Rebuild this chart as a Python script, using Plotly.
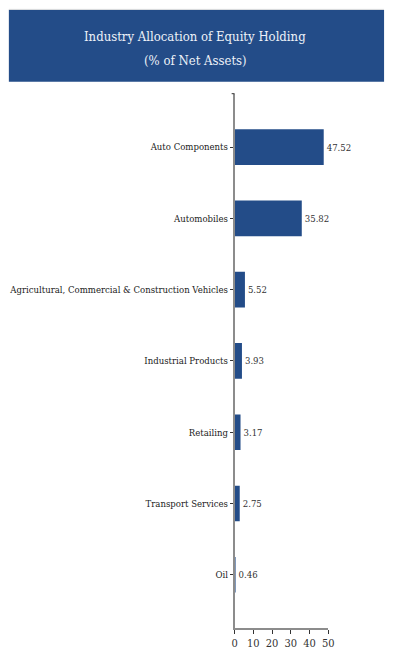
import plotly.graph_objects as go

# Industry allocation of equity holdings, % of net assets
industries = [
    "Auto Components",
    "Automobiles",
    "Agricultural, Commercial & Construction Vehicles",
    "Industrial Products",
    "Retailing",
    "Transport Services",
    "Oil",
]
allocation = [47.52, 35.82, 5.52, 3.93, 3.17, 2.75, 0.46]
x_ticks = [0, 10, 20, 30, 40, 50]

W, H = 393, 650
FONT = "DejaVu Serif Condensed"
NAVY = "#234c88"
AXIS_GREY = "#8c8c8c"

# plot area in pixels (left, right, top, bottom)
PL, PR, PT, PB = 237, 333, 95, 637

fig = go.Figure(
    go.Bar(
        x=allocation,
        y=industries,
        orientation="h",
        width=0.5,
        marker=dict(color=NAVY, line=dict(width=0)),
        text=[f"{v:.2f}" for v in allocation],
        textposition="outside",
        textfont=dict(family=FONT, size=9.5, color="#333333"),
        cliponaxis=False,
        hoverinfo="skip",
    )
)

fig.update_layout(
    width=W,
    height=H,
    margin=dict(l=0, r=0, t=0, b=0),
    paper_bgcolor="white",
    plot_bgcolor="white",
    showlegend=False,
    font=dict(family=FONT, color="#222222"),
    xaxis=dict(
        domain=[PL / W, PR / W],
        range=[0, 50],
        tickvals=x_ticks,
        ticktext=[str(t) for t in x_ticks],
        showgrid=False,
        zeroline=False,
        showline=True,
        linecolor=AXIS_GREY,
        linewidth=1.5,
        ticks="outside",
        ticklen=4,
        tickcolor="#333333",
        tickfont=dict(family=FONT, size=11, color="#333333"),
        fixedrange=True,
    ),
    yaxis=dict(
        domain=[(H - PB) / H, (H - PT) / H],
        type="category",
        categoryorder="array",
        categoryarray=industries,
        range=[6.75, -0.75],
        showgrid=False,
        zeroline=False,
        showline=True,
        linecolor=AXIS_GREY,
        linewidth=1.5,
        ticks="outside",
        ticklen=3,
        tickcolor="#333333",
        tickfont=dict(family=FONT, size=9.5, color="#222222"),
        fixedrange=True,
    ),
    shapes=[
        # title banner
        dict(type="rect", xref="paper", yref="paper",
             x0=6 / W, x1=390 / W, y0=1 - 83 / H, y1=1 - 10 / H,
             fillcolor=NAVY, line=dict(width=0), layer="below"),
        dict(type="line", xref="paper", yref="paper",
             x0=6 / W, x1=390 / W, y0=1 - 9.5 / H, y1=1 - 9.5 / H,
             line=dict(color="#dddddd", width=1)),
        # small stub at the top of the category axis
        dict(type="line", xref="paper", yref="paper",
             x0=(PL - 3) / W, x1=PL / W, y0=1 - PT / H, y1=1 - PT / H,
             line=dict(color="#333333", width=1)),
    ],
    annotations=[
        dict(xref="paper", yref="paper", x=197 / W, y=1 - 37 / H,
             text="Industry Allocation of Equity Holding", showarrow=False,
             font=dict(family=FONT, size=13, color="#eef2f8"), xanchor="center", yanchor="middle"),
        dict(xref="paper", yref="paper", x=197 / W, y=1 - 61 / H,
             text="(% of Net Assets)", showarrow=False,
             font=dict(family=FONT, size=13, color="#eef2f8"), xanchor="center", yanchor="middle"),
    ],
)

fig.write_html("out.html", config={"displayModeBar": False})
